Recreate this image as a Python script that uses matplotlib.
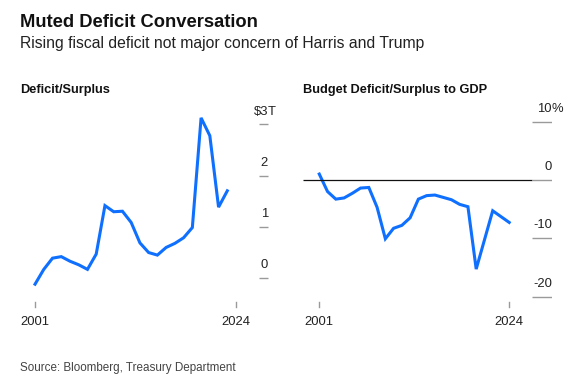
import matplotlib.pyplot as plt

plt.rcParams['font.family'] = ['Liberation Sans', 'DejaVu Sans']

# data
years_left = list(range(2001, 2024))
deficit_trn = [-0.13, 0.16, 0.38, 0.41, 0.32, 0.25, 0.16, 0.46, 1.41, 1.29, 1.30, 1.08,
               0.68, 0.49, 0.44, 0.59, 0.67, 0.78, 0.98, 3.13, 2.78, 1.38, 1.70]

years_right = list(range(2001, 2025))
deficit_gdp = [1.0, -2.0, -3.3, -3.1, -2.3, -1.4, -1.3, -4.7, -10.1, -8.3, -7.8, -6.5,
               -3.3, -2.7, -2.6, -3.0, -3.4, -4.2, -4.6, -15.3, -10.3, -5.3, -6.3, -7.3]

left_ticks = [0, 1, 2, 3]
left_labels = ['0', '1', '2', '$3']
right_ticks = [-20, -10, 0, 10]
right_labels = ['-20', '-10', '0', '10']
x_ticks = [2001, 2024]

W, H = 577, 386
BLUE = '#0f70ff'
GRAY = '#9a9a9a'
TXT = '#222222'
FS = 9.4

fig = plt.figure(figsize=(W / 100, H / 100), dpi=100)


def px_axes(left, top, width, height):
    return fig.add_axes([left / W, 1 - (top + height) / H, width / W, height / H])


def style(ax):
    for s in ax.spines.values():
        s.set_visible(False)
    ax.set_xticks([])
    ax.set_yticks([])
    ax.patch.set_alpha(0)
    # x ticks
    for yr in x_ticks:
        ax.plot([yr, yr], [-0.01, -0.035], color=GRAY, lw=1,
                transform=ax.get_xaxis_transform(), clip_on=False)
        ax.text(yr, -0.08, str(yr), transform=ax.get_xaxis_transform(),
                ha='center', va='top', fontsize=FS, color=TXT)


# left panel
ax1 = px_axes(20, 100, 260, 200)
ax1.plot(years_left, deficit_trn, color=BLUE, lw=2.2, solid_joinstyle='miter')
ax1.set_xlim(1999.28, 2029.03)
ax1.set_ylim(-0.44, 3.48)
style(ax1)
ax1.hlines(left_ticks, 0.919, 0.954, color=GRAY, lw=1,
           transform=ax1.get_yaxis_transform())
for v, lab in zip(left_ticks, left_labels):
    ax1.annotate(lab, (0.954, v), xycoords=ax1.get_yaxis_transform(),
                 xytext=(0, 5), textcoords='offset points',
                 ha='right', va='bottom', fontsize=FS, color=TXT)
ax1.annotate('T', (0.954, 3), xycoords=ax1.get_yaxis_transform(),
             xytext=(0, 5), textcoords='offset points',
             ha='left', va='bottom', fontsize=FS, color=TXT)

# right panel
ax2 = px_axes(303, 100, 249, 200)
ax2.plot(years_right, deficit_gdp, color=BLUE, lw=2.2, solid_joinstyle='miter')
ax2.set_xlim(1999.03, 2029.18)
ax2.set_ylim(-20.6, 13.7)
style(ax2)
ax2.hlines(0, 0, 0.92, color='#111111', lw=0.9,
           transform=ax2.get_yaxis_transform())
ax2.hlines(right_ticks, 0.92, 1.0, color=GRAY, lw=1,
           transform=ax2.get_yaxis_transform())
for v, lab in zip(right_ticks, right_labels):
    ax2.annotate(lab, (1.0, v), xycoords=ax2.get_yaxis_transform(),
                 xytext=(0, 5), textcoords='offset points',
                 ha='right', va='bottom', fontsize=FS, color=TXT)
ax2.annotate('%', (1.0, 10), xycoords=ax2.get_yaxis_transform(),
             xytext=(0, 5), textcoords='offset points',
             ha='left', va='bottom', fontsize=FS, color=TXT)

# titles
fig.text(20 / W, 1 - 27 / H, 'Muted Deficit Conversation', fontsize=13.2,
         fontweight='bold', va='baseline', ha='left', color='#111111')
fig.text(20 / W, 1 - 48 / H, 'Rising fiscal deficit not major concern of Harris and Trump',
         fontsize=11.3, va='baseline', ha='left', color=TXT)
fig.text(20 / W, 1 - 93 / H, 'Deficit/Surplus', fontsize=9.2, fontweight='bold',
         va='baseline', ha='left', color='#111111')
fig.text(303 / W, 1 - 93 / H, 'Budget Deficit/Surplus to GDP', fontsize=9.2,
         fontweight='bold', va='baseline', ha='left', color='#111111')
fig.text(20 / W, 1 - 371 / H, 'Source: Bloomberg, Treasury Department', fontsize=8.4,
         va='baseline', ha='left', color='#444444')

fig.savefig('out.png', dpi=100)
